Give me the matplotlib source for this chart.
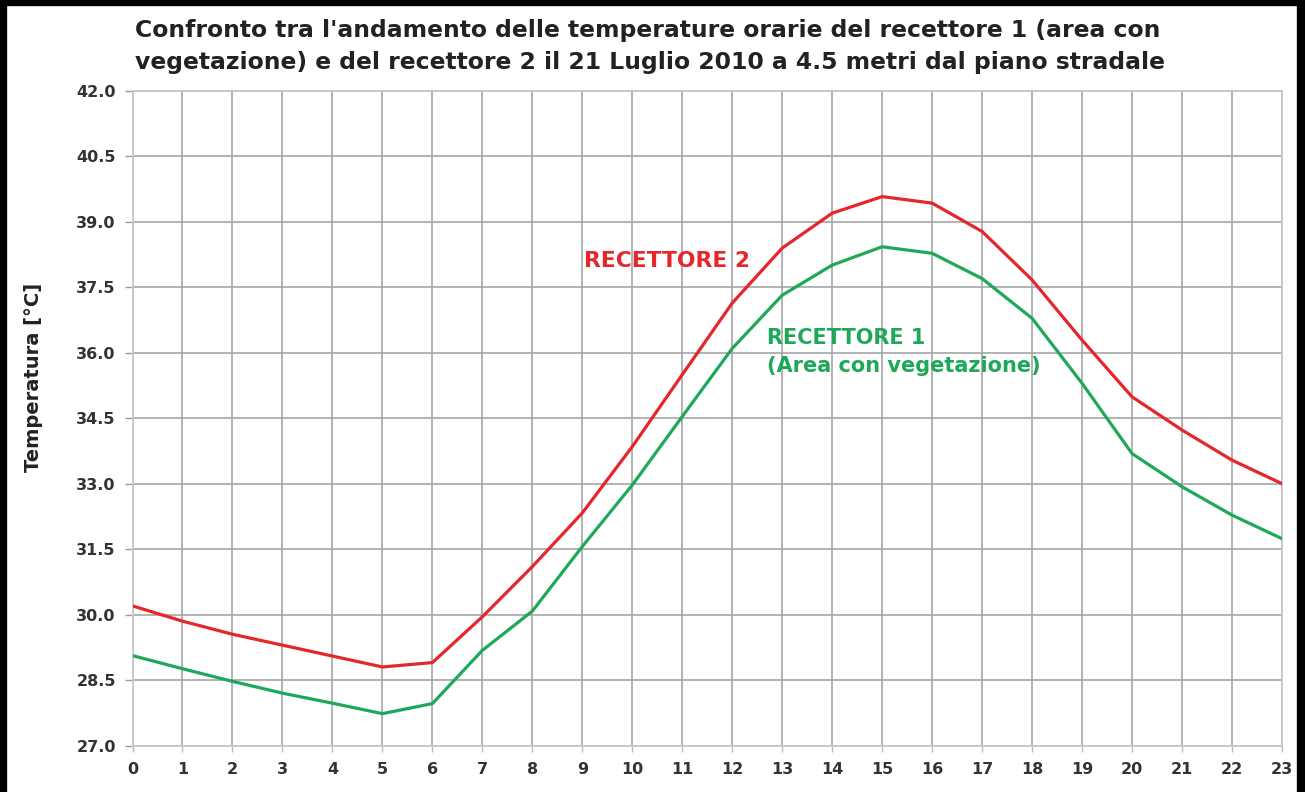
import matplotlib
matplotlib.use("Agg")
import matplotlib.pyplot as plt
from matplotlib.lines import Line2D

hours = list(range(24))
recettore2 = [30.2, 29.85, 29.55, 29.3, 29.05, 28.8, 28.9, 29.95, 31.1, 32.33,
              33.85, 35.5, 37.14, 38.4, 39.2, 39.58, 39.43, 38.78, 37.67, 36.29,
              34.99, 34.23, 33.54, 33.0]
recettore1 = [29.06, 28.76, 28.47, 28.2, 27.97, 27.73, 27.96, 29.18, 30.08, 31.56,
              32.97, 34.54, 36.1, 37.32, 38.01, 38.43, 38.28, 37.7, 36.79, 35.3,
              33.69, 32.93, 32.28, 31.74]
yticks = [27.0, 28.5, 30.0, 31.5, 33.0, 34.5, 36.0, 37.5, 39.0, 40.5, 42.0]

title = ("Confronto tra l'andamento delle temperature orarie del recettore 1 (area con\n"
         "vegetazione) e del recettore 2 il 21 Luglio 2010 a 4.5 metri dal piano stradale")

RED = "#e5262b"
GREEN = "#1ea85a"
GRID = "#a6a6a6"

plt.rcParams['font.family'] = ['DejaVu Sans']

W, H = 1305, 792
fig = plt.figure(figsize=(W / 100, H / 100), dpi=100)
ax = fig.add_axes([132.5 / W, 1 - 745.5 / H, (1282 - 132.5) / W, (745.5 - 91) / H])

ax.plot(hours, recettore2, color=RED, lw=2.3, solid_joinstyle='round', zorder=3)
ax.plot(hours, recettore1, color=GREEN, lw=2.3, solid_joinstyle='round', zorder=3)

ax.set_xlim(0, 23)
ax.set_ylim(27.0, 42.0)
ax.set_xticks(hours)
ax.set_xticklabels([str(h) for h in hours])
ax.set_yticks(yticks)
ax.set_yticklabels([f"{v:.1f}" for v in yticks])
ax.grid(True, color=GRID, lw=1.2, zorder=0)
ax.set_axisbelow(True)
for s in ax.spines.values():
    s.set_color("#c8c8c8")
    s.set_linewidth(1.3)
ax.tick_params(axis='y', length=6, width=1.0, color="#9a9a9a", pad=6,
               labelsize=11.5, labelcolor="#333333")
ax.tick_params(axis='x', length=4, width=1.0, color="#bbbbbb", pad=8,
               labelsize=11.5, labelcolor="#333333")
for lbl in ax.get_xticklabels() + ax.get_yticklabels():
    lbl.set_fontweight('bold')

fig.text(34 / W, 1 - 377 / H, "Temperatura [°C]", rotation=90, ha='center', va='center',
         fontsize=14, fontweight='bold', color="#222222")

fig.text(135 / W, 1 - 19 / H, title, ha='left', va='top', fontsize=16.9,
         fontweight='bold', color="#222222", linespacing=1.52)

ax.text(10.69, 38.10, "RECETTORE 2", color=RED, fontsize=15.7, fontweight='bold',
        ha='center', va='center')
ax.text(12.69, 36.02, "RECETTORE 1\n(Area con vegetazione)", color=GREEN, fontsize=15,
        fontweight='bold', ha='left', va='center', linespacing=1.45)

# figure frame (left, top, right)
for xs, ys in [([0.002, 0.002], [0, 1]), ([0.0, 1.0], [0.997, 0.997]),
               ([0.997, 0.997], [0, 1])]:
    fig.add_artist(Line2D(xs, ys, transform=fig.transFigure, color='black', lw=6))

fig.savefig("out.png", dpi=100, facecolor='white')
